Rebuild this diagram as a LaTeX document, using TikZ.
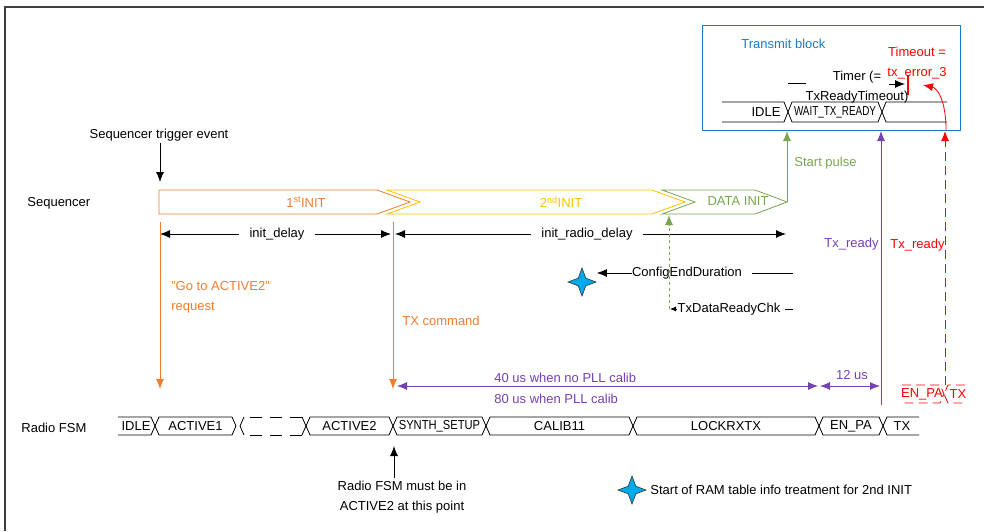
\documentclass[tikz,border=0pt]{standalone}
\usepackage{fontspec}
\setmainfont{Liberation Sans}
\usepackage{graphicx}
\usepackage{tikz}
\usetikzlibrary{arrows.meta,shapes.geometric}
\definecolor{seqorange}{HTML}{ED7D31}
\definecolor{inityellow}{HTML}{FFC000}
\definecolor{datagreen}{HTML}{78A550}
\definecolor{txpurple}{HTML}{7540B0}
\definecolor{blockblue}{HTML}{1A7BC8}
\definecolor{starblue}{HTML}{00A8EC}

\begin{document}
\begin{tikzpicture}[x=1pt,y=-1pt,>={Latex[length=10pt,width=8pt]},
    line width=0.8pt,font=\fontsize{13}{15}\selectfont,
    every node/.style={inner sep=0pt},
    dimlbl/.style={inner xsep=10pt},
    longdash/.style={dash pattern=on 9pt off 5pt},
    twoline/.style={align=center,font=\fontsize{13}{19.5}\selectfont},
    ramstar/.style={star,star points=4,star point ratio=2.6,minimum size=28pt,
      draw=black!80,line width=0.6pt,fill=starblue}]
    \useasboundingbox (0,0) rectangle (984,531);
    \draw[black!75,line width=1.2pt] (984,7) -- (5,7) -- (5,531);

    \draw[blockblue,line width=1pt] (702,25) rectangle (960,130);
    \node[blockblue,anchor=west] (txblk) at (741,44) {Transmit block};
    \node[red,twoline] (tmo) at (917,63) {Timeout =\\tx\_error\_3};
    \node[twoline] (timer) at (857,87) {Timer (=\\TxReadyTimeout)};
    \coordinate (tmstart) at (788,83);
    \coordinate (tmend) at (905,84);
    \draw (tmstart) -- ++(18,0);
    \draw[->] (889,84) -- (tmend);
    \draw[red,line width=2.5pt] (908,75) -- (908,95);
    \draw (722,102) -- (784,102) -- (788,112) -- (784,122) -- (722,122);
    \draw (788,112) -- (792,102) -- (878,102) -- (882,112) -- (878,122) -- (792,122) -- cycle;
    \draw (947,102) -- (886,102) -- (882,112) -- (886,122) -- (947,122);
    \node (bidle) at (766,112) {IDLE};
    \node (bwait) at (835,112) {\scalebox{0.76}[1]{WAIT\_TX\_READY}};

    \node[anchor=west] (seqlbl) at (27,203) {Sequencer};
    \node[anchor=west] (fsmlbl) at (21,428) {Radio FSM};
    \node (trig) at (159,135) {Sequencer trigger event};
    \draw[->] ([yshift=-2pt]trig.south -| 160,0) -- (160,182);

    \draw[seqorange] (159,190) -- (377,190) -- (410,202) -- (377,214) -- (159,214) -- cycle;
    \draw[inityellow] (387,190) -- (652,190) -- (685,202) -- (652,214) -- (387,214) -- (420,202) -- cycle;
    \draw[datagreen] (662,190) -- (755,190) -- (787,202) -- (755,214) -- (662,214) -- (695,202) -- cycle;
    \node[seqorange] (init1) at (306,202) {1\textsuperscript{st}INIT};
    \node[inityellow] (init2) at (561,202) {2\textsuperscript{nd}INIT};
    \node[datagreen] (dinit) at (738,201) {DATA INIT};
    \coordinate (dtip) at (787,202);

    \coordinate (d0) at (160,234);
    \coordinate (d1) at (391,234);
    \coordinate (d2) at (786,234);
    \node[dimlbl] (idly) at (277,234) {init\_delay};
    \draw[->] (idly.west) -- (d0);
    \draw[->] (idly.east) -- (d1);
    \node[dimlbl] (irdly) at (587,234) {init\_radio\_delay};
    \draw[->] (irdly.west) -- (395,234);
    \draw[->] (irdly.east) -- (d2);

    \draw[seqorange,->] (160,222) -- (160,389);
    \draw[seqorange,->] (393,222) -- (393,389);
    \node[seqorange,anchor=west,align=left,font=\fontsize{13}{20}\selectfont] (goreq) at (171,297) {"Go to ACTIVE2"\\request};
    \node[seqorange,anchor=west] (txcmd) at (402,321) {TX command};

    \draw[datagreen,dashed,->] (669,309) -- (669,215);
    \node[ramstar] (star1) at (582,282) {};
    \node (ced) at (687,273) {ConfigEndDuration};
    \draw[->] (ced.west) -- (star1.east |- ced.west);
    \draw ([xshift=10pt]ced.east) -- (793,273);
    \node (tdrc) at (729,309) {TxDataReadyChk};
    \draw[-{Latex[length=6pt,width=5pt]}] ([xshift=-1pt]tdrc.west) -- (670,309);
    \draw ([xshift=4pt]tdrc.east) -- (793,309);

    \draw[datagreen,->] (dtip) -- (787,131);
    \node[datagreen,anchor=west] (spulse) at (794,163) {Start pulse};
    \draw[txpurple,->] (881,405) -- (881,131);
    \node[txpurple,anchor=east] (txr1) at (879,244) {Tx\_ready};
    \draw[red,longdash,->] (945,385) -- (945,131);
    \node[red,anchor=east] (txr2) at (945,245) {Tx\_ready};
    \coordinate (errpt) at (923,85);
    \draw[red,->] (946,130) .. controls (946,100) and (937,88) .. (errpt);

    \draw[txpurple,<->] (397,386) -- (818,386);
    \draw[txpurple,<->] (820,386) -- (880,386);
    \node[txpurple,anchor=west] (p40) at (494,378) {40 us when no PLL calib};
    \node[txpurple,anchor=west] (p80) at (494,399) {80 us when PLL calib};
    \node[txpurple] (p12) at (852,375) {12 us};

    \draw[red,longdash] (902,385) -- (940,385) -- (944,394) -- (940,403) -- (902,403);
    \draw[red,longdash] (965,385) -- (948,385) -- (944,394) -- (948,403) -- (965,403);
    \node[red] (enpa2) at (922,394) {EN\_PA};
    \node[red] (tx2) at (958,394) {TX};

    \draw (118,417) -- (151,417) -- (155,426) -- (151,435) -- (118,435);
    \node (fidle) at (136,426) {IDLE};
    \foreach \xa/\xb/\txt [count=\i] in {155/236/ACTIVE1,306/393/ACTIVE2,
        393/486/{\scalebox{0.86}[1]{SYNTH\_SETUP}},486/633/CALIB11,
        633/819/LOCKRXTX,819/883/EN\_PA}
      {\draw (\xa,426) -- (\xa+4,417) -- (\xb-4,417) -- (\xb,426) -- (\xb-4,435) -- (\xa+4,435) -- cycle;
       \node (fsm\i) at ({(\xa+\xb)/2},426) {\txt};}
    \draw (240,426) -- (244,417) (244,435) -- (240,426);
    \draw (306,426) -- (302,417) (302,435) -- (306,426);
    \draw[dash pattern=on 12pt off 8pt] (250,417) -- (302,417) (250,435) -- (302,435);
    \draw (919,417) -- (887,417) -- (883,426) -- (887,435) -- (919,435);
    \node (ftx) at (902,426) {TX};

    \coordinate (mustarr) at (394,446);
    \node[twoline] (must) at (402,497) {Radio FSM must be in\\ACTIVE2 at this point};
    \draw[->] ([yshift=3pt]must.north -| mustarr) -- (mustarr);
    \node[ramstar] (star2) at (632,490) {};
    \node[anchor=west] (legend) at (650,490) {Start of RAM table info treatment for 2nd INIT};
  \end{tikzpicture}
\end{document}
